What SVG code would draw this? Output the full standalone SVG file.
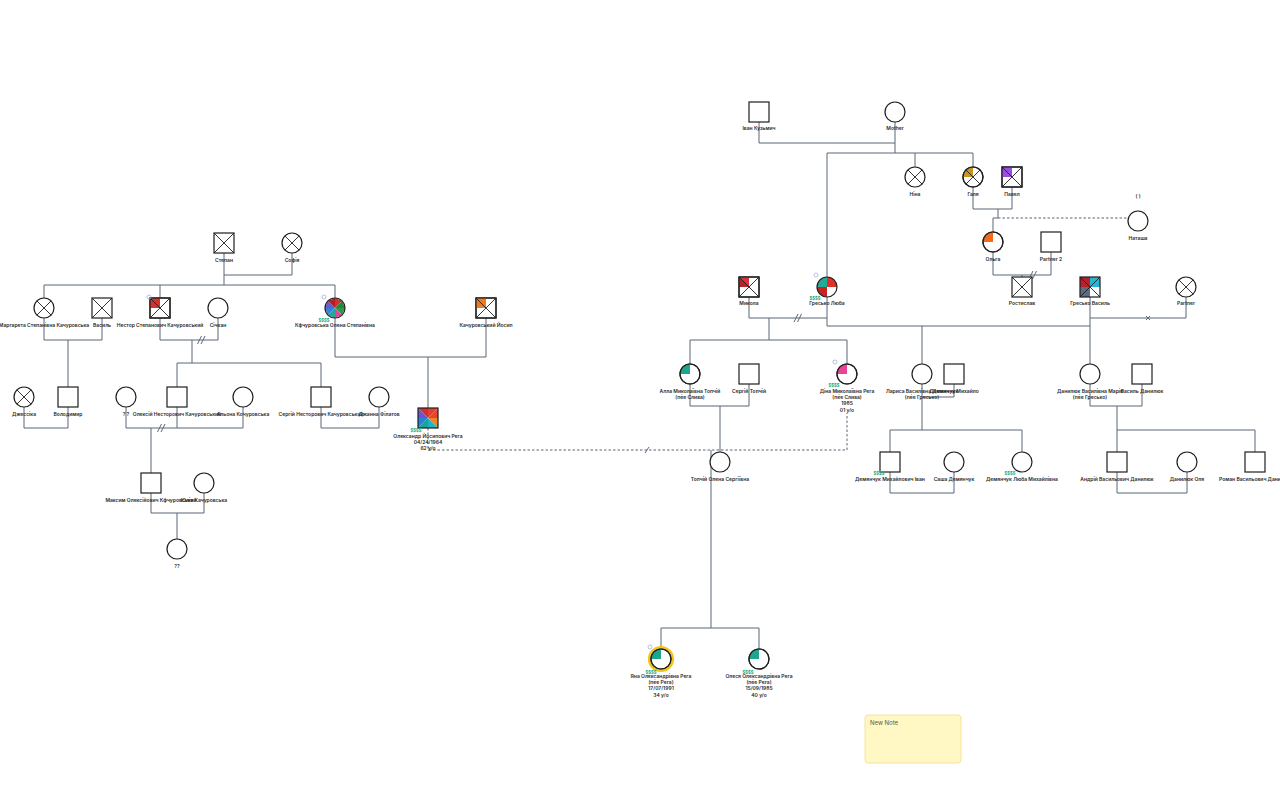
<svg xmlns="http://www.w3.org/2000/svg" xmlns:xlink="http://www.w3.org/1999/xlink" width="1280" height="800" viewBox="0 0 1280 800">
<style>
.bg{fill:#ffffff}
.sym{fill:none;stroke:#1e1e1e;stroke-width:1.2}
.symw{fill:#ffffff;stroke:#1e1e1e;stroke-width:1.2}
.x{fill:none;stroke:#1e1e1e;stroke-width:0.9}
.ln{fill:none;stroke:#5b6677;stroke-width:1}
.dash{fill:none;stroke:#5b6677;stroke-width:1;stroke-dasharray:2.5 2}
.lbl{font-family:Inter,"Liberation Sans",sans-serif;font-size:5px;font-weight:600;fill:#2a2a2a;text-anchor:middle}
.money{font-family:Inter,"Liberation Sans",sans-serif;font-size:4.2px;font-weight:700;fill:#2fae84;text-anchor:middle}
.icon{fill:none;stroke:#a7b0e0;stroke-width:0.8}
.note{font-family:Inter,"Liberation Sans",sans-serif;font-size:6px;fill:#555555}
</style>
<defs>
<rect id="sq" x="-10" y="-10" width="20" height="20"/>
<circle id="ci" r="10"/>
<path id="xs" d="M-10-10L10 10M10-10L-10 10"/>
<path id="xc" d="M-7.07-7.07L7.07 7.07M7.07-7.07L-7.07 7.07"/>
<path id="qc" d="M0 0H-10A10 10 0 0 1 0-10Z"/>
<rect id="qs" x="-10" y="-10" width="10" height="10"/>
</defs>
<rect class="bg" x="0" y="0" width="1280" height="800"/>

<g id="connectors">
<!-- left family -->
<path class="ln" d="M224 253V285M292 253V275M224 275H292M44 285H335M44 285V298M160 285V298M335 285V298"/>
<path class="ln" d="M44 318V340M102 318V340M44 340H102M68 340V387"/>
<path class="ln" d="M24 407V428M68 407V428M24 428H68"/>
<path class="ln" d="M160 318V340M218 318V340M160 340H218M192 340V363M177 363H321M177 363V387M321 363V387"/>
<path class="ln" d="M197.5 344L201.5 336M201 344L205 336"/>
<path class="ln" d="M126 407V428M177 407V428M243 407V428M126 428H243M151 428V473"/>
<path class="ln" d="M157.5 432L161.5 424M161 432L165 424"/>
<path class="ln" d="M321 407V428M379 407V428M321 428H379"/>
<path class="ln" d="M151 493V513M204 493V513M151 513H204M177 513V539"/>
<path class="ln" d="M335 318V357M486 318V357M335 357H486M428 357V408"/>
<path class="dash" d="M428 428V450H847V413"/>
<path class="ln" d="M645 453L649 447"/>
<!-- right family -->
<path class="ln" d="M759 122V143M895 122V153M759 143H895M827 153H973M827 153V277M915 153V167M973 153V167"/>
<path class="ln" d="M973 187V209M1012 187V209M973 209H1012M998 209V218M993 218H998M993 218V232"/>
<path class="dash" d="M998 218H1128"/>
<path class="ln" d="M993 252V275M1051 252V275M993 275H1051M1022 275V277"/>
<path class="ln" d="M1029 279L1033 271M1032.5 279L1036.5 271"/>
<path class="ln" d="M749 297V318M827 297V326M749 318H827M769 318V340M690 340H847M690 340V364M847 340V364"/>
<path class="ln" d="M794 322L798 314M797.5 322L801.5 314"/>
<path class="ln" d="M827 326H1090M922 326V364M1090 297V364"/>
<path class="ln" d="M1090 318H1186M1186 297V318M1146 316L1150 320M1150 316L1146 320"/>
<path class="ln" d="M690 384V406M749 384V406M690 406H749M720 406V452"/>
<path class="ln" d="M922 384V430M954 384V397M922 397H954M890 430H1022M890 430V452M1022 430V452"/>
<path class="ln" d="M1090 384V406M1142 384V406M1090 406H1142M1117 406V452M1117 430H1255M1255 430V452"/>
<path class="ln" d="M890 472V493M954 472V493M890 493H954"/>
<path class="ln" d="M1117 472V493M1187 472V493M1117 493H1187"/>
<path class="ln" d="M711 450V628M661 628H759M661 628V647M759 628V649"/>
</g>

<!-- LEFT FAMILY NODES -->
<g id="n-stepan" transform="translate(224,243)"><use href="#sq" class="symw"/><use href="#xs" class="x"/></g>
<text class="lbl" x="224" y="262">Степан</text>
<g id="n-sofia" transform="translate(292,243)"><use href="#ci" class="symw"/><use href="#xc" class="x"/></g>
<text class="lbl" x="292" y="262">Софія</text>

<g id="n-marg" transform="translate(44,308)"><use href="#ci" class="symw"/><use href="#xc" class="x"/></g>
<text class="lbl" x="44" y="327">Маргарета Степанівна Качуровська</text>
<g id="n-vasyl" transform="translate(102,308)"><use href="#sq" class="symw"/><use href="#xs" class="x"/></g>
<text class="lbl" x="102" y="327">Василь</text>
<g id="n-nestor" transform="translate(160,308)"><use href="#sq" class="symw"/><use href="#qs" fill="#d9302a"/><use href="#sq" class="sym"/><use href="#xs" class="x"/></g>
<circle class="icon" cx="149" cy="297" r="2"/>
<text class="lbl" x="160" y="327">Нестор Степанович Качуровський</text>
<g id="n-sichkan" transform="translate(218,308)"><use href="#ci" class="symw"/></g>
<text class="lbl" x="218" y="327">Січкан</text>
<g id="n-olena" transform="translate(335,308)">
<circle r="10" fill="#fff"/>
<path d="M0 0L0-10L7.07-7.07Z" fill="#d3302c"/>
<path d="M0 0L7.07-7.07L10 0Z" fill="#1f8a3c"/>
<path d="M0 0L10 0L7.07 7.07Z" fill="#2e9a4a"/>
<path d="M0 0L7.07 7.07L0 10Z" fill="#e0469a"/>
<path d="M0 0L0 10L-7.07 7.07Z" fill="#22a79a"/>
<path d="M0 0L-7.07 7.07L-10 0Z" fill="#2f86d8"/>
<path d="M0 0L-10 0L-7.07-7.07Z" fill="#6b5bd2"/>
<path d="M0 0L-7.07-7.07L0-10Z" fill="#b3201f"/>
<circle r="10" fill="#ffffff" fill-opacity="0" stroke="#1e1e1e" stroke-width="1.2"/>
</g>
<circle class="icon" cx="324" cy="297" r="2"/>
<text class="money" x="324" y="321.5">$$$$</text>
<text class="lbl" x="335" y="327">Кфчуровська Олена Степанівна</text>
<g id="n-yosyp" transform="translate(486,308)"><use href="#sq" class="symw"/><use href="#qs" fill="#f07a1c"/><use href="#sq" class="sym"/><use href="#xs" class="x"/></g>
<text class="lbl" x="486" y="327">Качуровський Йосип</text>

<g id="n-jessica" transform="translate(24,397)"><use href="#ci" class="symw"/><use href="#xc" class="x"/></g>
<text class="lbl" x="24" y="416">Джессіка</text>
<g id="n-volodymyr" transform="translate(68,397)"><use href="#sq" class="symw"/></g>
<text class="lbl" x="68" y="416">Володимир</text>
<g id="n-qq" transform="translate(126,397)"><use href="#ci" class="symw"/></g>
<text class="lbl" x="126" y="416">? ?</text>
<g id="n-oleksii" transform="translate(177,397)"><use href="#sq" class="symw"/></g>
<text class="lbl" x="177" y="416">Олексій Несторович Качуровський</text>
<g id="n-alona" transform="translate(243,397)"><use href="#ci" class="symw"/></g>
<text class="lbl" x="243" y="416">Альона Кочуровська</text>
<g id="n-serhii" transform="translate(321,397)"><use href="#sq" class="symw"/></g>
<text class="lbl" x="321" y="416">Сергій Несторович Качуровський</text>
<g id="n-janna" transform="translate(379,397)"><use href="#ci" class="symw"/></g>
<text class="lbl" x="379" y="416">Джанна Філатов</text>

<g id="n-oleksandr" transform="translate(428,418)">
<path d="M0 0L-10-10H0Z" fill="#d32f2f"/>
<path d="M0 0L0-10H10Z" fill="#e2402f"/>
<path d="M0 0L10-10V0Z" fill="#e3472f"/>
<path d="M0 0L10 0V10Z" fill="#f28522"/>
<path d="M0 0L10 10H0Z" fill="#1eb3c9"/>
<path d="M0 0L0 10H-10Z" fill="#1aa394"/>
<path d="M0 0L-10 10V0Z" fill="#2b7fd4"/>
<path d="M0 0L-10 0V-10Z" fill="#6a55cf"/>
<use href="#sq" class="sym"/>
</g>
<text class="money" x="416" y="431.5">$$$$</text>
<text class="lbl" x="428" y="437.5">Олександр Йосипович Рега</text>
<text class="lbl" x="428" y="443.5">04/24/1964</text>
<text class="lbl" x="428" y="449.5">62 y/o</text>

<g id="n-maksym" transform="translate(151,483)"><use href="#sq" class="symw"/></g>
<text class="lbl" x="151" y="502">Максим Олексійович Кфчуровський</text>
<g id="n-yulia" transform="translate(204,483)"><use href="#ci" class="symw"/></g>
<text class="lbl" x="204" y="502">Юлія Качуровська</text>
<g id="n-child" transform="translate(177,549)"><use href="#ci" class="symw"/></g>
<text class="lbl" x="177" y="568">??</text>

<!-- RIGHT FAMILY NODES -->
<g id="n-ivan" transform="translate(759,112)"><use href="#sq" class="symw"/></g>
<text class="lbl" x="759" y="130">Іван Кузьмич</text>
<g id="n-mother" transform="translate(895,112)"><use href="#ci" class="symw"/></g>
<text class="lbl" x="895" y="130">Mother</text>
<g id="n-nina" transform="translate(915,177)"><use href="#ci" class="symw"/><use href="#xc" class="x"/></g>
<text class="lbl" x="915" y="196">Ніна</text>
<g id="n-halia" transform="translate(973,177)"><use href="#ci" class="symw"/><use href="#qc" fill="#c99522"/><use href="#ci" class="sym"/><use href="#xc" class="x"/></g>
<text class="lbl" x="973" y="196">Галя</text>
<g id="n-pavel" transform="translate(1012,177)"><use href="#sq" class="symw"/><use href="#qs" fill="#9a4fe0"/><use href="#sq" class="sym"/><use href="#xs" class="x"/></g>
<text class="lbl" x="1012" y="196">Павел</text>
<g id="n-natasha" transform="translate(1138,221)"><use href="#ci" class="symw"/></g>
<text class="lbl" x="1138" y="198">( )</text>
<text class="lbl" x="1138" y="240">Наташа</text>
<g id="n-olha" transform="translate(993,242)"><use href="#ci" class="symw"/><use href="#qc" fill="#f26a1b"/><use href="#ci" class="sym"/></g>
<text class="lbl" x="993" y="261">Ольга</text>
<g id="n-partner2" transform="translate(1051,242)"><use href="#sq" class="symw"/></g>
<text class="lbl" x="1051" y="261">Partner 2</text>
<g id="n-rostyslav" transform="translate(1022,287)"><use href="#sq" class="symw"/><use href="#xs" class="x"/></g>
<text class="lbl" x="1022" y="305">Ростислав</text>

<g id="n-mykola" transform="translate(749,287)"><use href="#sq" class="symw"/><use href="#qs" fill="#d8343a"/><path d="M-10-10L0 0H-10Z" fill="#b8232b"/><use href="#sq" class="sym"/><use href="#xs" class="x"/></g>
<text class="lbl" x="749" y="305">Микола</text>
<g id="n-liuba" transform="translate(827,287)">
<circle r="10" fill="#fff"/>
<path d="M0 0H-10A10 10 0 0 1 0-10Z" fill="#22ab96"/>
<path d="M0 0V-10A10 10 0 0 1 10 0Z" fill="#e0302a"/>
<path d="M0 0H-10A10 10 0 0 0 0 10Z" fill="#c82323"/>
<use href="#ci" class="sym"/>
</g>
<circle class="icon" cx="816" cy="275" r="2"/>
<text class="money" x="815" y="299.5">$$$$</text>
<text class="lbl" x="827" y="305">Гресько Люба</text>
<g id="n-vasyl-h" transform="translate(1090,287)">
<rect x="-10" y="-10" width="20" height="20" fill="#fff"/>
<rect x="-10" y="-10" width="10" height="10" fill="#b4232b"/>
<rect x="0" y="-10" width="10" height="10" fill="#27b5d6"/>
<rect x="-10" y="0" width="10" height="10" fill="#5c6a82"/>
<use href="#sq" class="sym"/><use href="#xs" class="x"/>
</g>
<text class="lbl" x="1090" y="305">Гресько Василь</text>
<g id="n-partner" transform="translate(1186,287)"><use href="#ci" class="symw"/><use href="#xc" class="x"/></g>
<text class="lbl" x="1186" y="305">Partner</text>

<g id="n-alla" transform="translate(690,374)"><use href="#ci" class="symw"/><use href="#qc" fill="#1ea58e"/><use href="#ci" class="sym"/></g>
<text class="lbl" x="690" y="392.5">Алла Миколаївна Топчій</text>
<text class="lbl" x="690" y="399">(née Слива)</text>
<g id="n-serhii-t" transform="translate(749,374)"><use href="#sq" class="symw"/></g>
<text class="lbl" x="749" y="392.5">Сергій Топчій</text>
<g id="n-dina" transform="translate(847,374)"><use href="#ci" class="symw"/><use href="#qc" fill="#e8449a"/><use href="#ci" class="sym"/></g>
<circle class="icon" cx="835" cy="362" r="2"/>
<text class="money" x="834" y="387">$$$$</text>
<text class="lbl" x="847" y="392.5">Діна Миколаївна Рега</text>
<text class="lbl" x="847" y="399">(née Слива)</text>
<text class="lbl" x="847" y="405.3">1985</text>
<text class="lbl" x="847" y="411.6">01 y/o</text>
<g id="n-larysa" transform="translate(922,374)"><use href="#ci" class="symw"/></g>
<text class="lbl" x="922" y="392.5">Лариса Василівна Демянчук</text>
<text class="lbl" x="922" y="399">(née Гресько)</text>
<g id="n-mykhailo" transform="translate(954,374)"><use href="#sq" class="symw"/></g>
<text class="lbl" x="954" y="392.5">Демянчук Михайло</text>
<g id="n-mariia" transform="translate(1090,374)"><use href="#ci" class="symw"/></g>
<text class="lbl" x="1090" y="392.5">Данилюк Василівна Марія</text>
<text class="lbl" x="1090" y="399">(née Гресько)</text>
<g id="n-vasyl-d" transform="translate(1142,374)"><use href="#sq" class="symw"/></g>
<text class="lbl" x="1142" y="392.5">Василь Данилюк</text>

<g id="n-olena-t" transform="translate(720,462)"><use href="#ci" class="symw"/></g>
<text class="lbl" x="720" y="481">Топчій Олена Сергіївна</text>
<g id="n-ivan-d" transform="translate(890,462)"><use href="#sq" class="symw"/></g>
<text class="money" x="879" y="475">$$$$</text>
<text class="lbl" x="890" y="481">Демянчук Михайлович Іван</text>
<g id="n-sasha" transform="translate(954,462)"><use href="#ci" class="symw"/></g>
<text class="lbl" x="954" y="481">Саша Демянчук</text>
<g id="n-liuba-m" transform="translate(1022,462)"><use href="#ci" class="symw"/></g>
<text class="money" x="1010" y="475">$$$$</text>
<text class="lbl" x="1022" y="481">Демянчук Люба Михайлівна</text>
<g id="n-andrii" transform="translate(1117,462)"><use href="#sq" class="symw"/></g>
<text class="lbl" x="1117" y="481">Андрій Васильович Данилюк</text>
<g id="n-olia" transform="translate(1187,462)"><use href="#ci" class="symw"/></g>
<text class="lbl" x="1187" y="481">Данилюк Оля</text>
<g id="n-roman" transform="translate(1255,462)"><use href="#sq" class="symw"/></g>
<text class="lbl" x="1255" y="481">Роман Васильович Данилюк</text>

<g id="n-yana" transform="translate(661,659)"><circle r="11.8" fill="none" stroke="#f3c41a" stroke-width="2.6"/><use href="#ci" class="symw"/><use href="#qc" fill="#1ea58e"/><use href="#ci" class="sym"/></g>
<circle class="icon" cx="650" cy="647" r="2"/>
<text class="money" x="651" y="673.5">$$$$</text>
<text class="lbl" x="661" y="678">Яна Олександрівна Рега</text>
<text class="lbl" x="661" y="684">(née Рега)</text>
<text class="lbl" x="661" y="690">17/07/1991</text>
<text class="lbl" x="661" y="696.5">34 y/o</text>
<g id="n-olesia" transform="translate(759,659)"><use href="#ci" class="symw"/><use href="#qc" fill="#1ea58e"/><use href="#ci" class="sym"/></g>
<text class="money" x="748" y="673.5">$$$$</text>
<text class="lbl" x="759" y="678">Олеся Олександрівна Рега</text>
<text class="lbl" x="759" y="684">(née Рега)</text>
<text class="lbl" x="759" y="690">15/09/1985</text>
<text class="lbl" x="759" y="696.5">40 y/o</text>

<g id="note">
<rect x="865" y="715" width="96" height="48" rx="3" fill="#fff8c4" stroke="#f4e39a" stroke-width="1"/>
<text class="note" x="870" y="725">New Note</text>
</g>
</svg>
